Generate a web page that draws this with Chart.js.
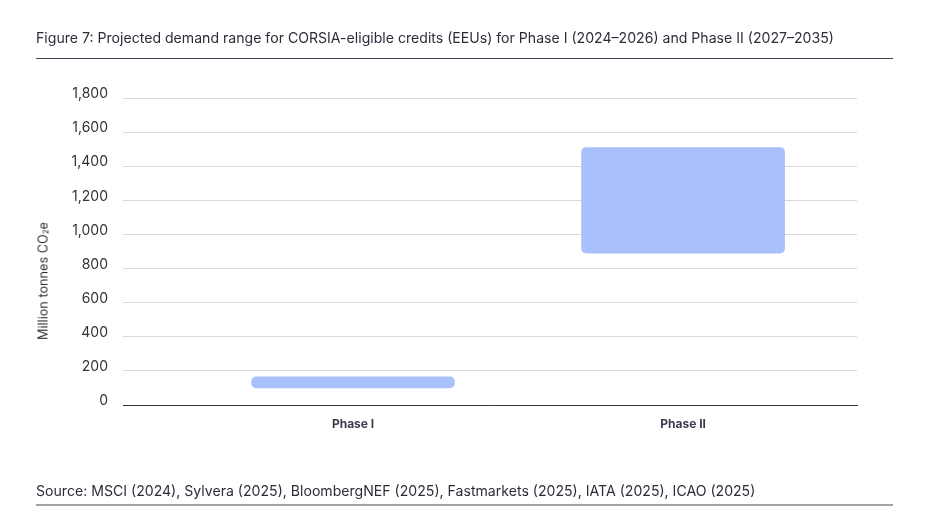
<!DOCTYPE html>
<html>
<head>
<meta charset="utf-8">
<script src="https://cdn.jsdelivr.net/npm/chart.js@4"></script>
<style>
  html, body { margin: 0; padding: 0; background: #fff; }
  body { width: 930px; height: 521px; position: relative; overflow: hidden; font-family: Inter, "Noto Sans", sans-serif; }
  #chart-wrap { position: absolute; left: 0; top: 0; width: 930px; height: 521px; }
  .title { position: absolute; left: 36px; top: 29px; font-size: 14.1px; color: #2b2d3a; white-space: nowrap; }
  .rule-top { position: absolute; left: 36px; top: 58px; width: 857px; height: 1px; background: #44475a; }
  .source { position: absolute; left: 36px; top: 482px; font-size: 14.1px; color: #2b2d3a; white-space: nowrap; }
  .rule-bottom { position: absolute; left: 36px; top: 504px; width: 857px; height: 2px; background: #a3a3a3; }
  .y-title { position: absolute; left: 43px; top: 281px; font-size: 12.7px; color: #333; white-space: nowrap;
             transform: translate(-50%, -50%) rotate(-90deg); }
</style>
</head>
<body>
<div id="chart-wrap"><canvas id="demandChart"></canvas></div>
<div class="title">Figure 7: Projected demand range for CORSIA-eligible credits (EEUs) for Phase I (2024–2026) and Phase II (2027–2035)</div>
<div class="rule-top"></div>
<div class="y-title">Million tonnes CO<sub style="font-size:8px;vertical-align:-1px">2</sub>e</div>
<div class="source">Source: MSCI (2024), Sylvera (2025), BloombergNEF (2025), Fastmarkets (2025), IATA (2025), ICAO (2025)</div>
<div class="rule-bottom"></div>
<script>
const phases = ["Phase I", "Phase II"];
const demandLow = [100, 890];
const demandHigh = [165, 1510];
const yTicks = [0, 200, 400, 600, 800, 1000, 1200, 1400, 1600, 1800];

const barColor = "rgb(170, 192, 252)";

document.addEventListener("DOMContentLoaded", () => {
  const canvas = document.getElementById("demandChart");

  new Chart(canvas, {
    type: "bar",
    data: {
      datasets: [
        {
          label: "Demand range",
          data: phases.map((p, i) => ({ x: i, y: [demandLow[i], demandHigh[i]] })),
          backgroundColor: barColor,
          borderWidth: 0,
          borderRadius: 5,
          borderSkipped: false,
          barThickness: 203,
        },
      ],
    },
    options: {
      responsive: true,
      maintainAspectRatio: false,
      animation: false,
      layout: {
        padding: { top: 98, right: 73, bottom: 0, left: 0 },
      },
      plugins: {
        legend: { display: false },
        tooltip: { enabled: false },
      },
      scales: {
        x: {
          type: "linear",
          offset: false,
          min: -0.697,
          max: 1.527,
          afterBuildTicks: (scale) => {
            scale.ticks = phases.map((p, i) => ({ value: i }));
          },
          afterFit: (scale) => {
            scale.height = 116;
          },
          grid: { display: false, drawTicks: false },
          border: { display: true, color: "#333333", width: 1 },
          ticks: {
            padding: 12,
            color: "#3a3d4d",
            font: { family: "Inter", size: 12, weight: "bold" },
            callback: (v) => phases[v] || "",
            maxRotation: 0,
          },
        },
        y: {
          min: 0,
          max: 1800,
          afterBuildTicks: (scale) => {
            scale.ticks = yTicks.map((v) => ({ value: v }));
          },
          afterFit: (scale) => {
            scale.width = 123;
          },
          grid: { color: "#d9d9d9", drawTicks: false },
          border: { display: false },
          ticks: {
            padding: 15,
            labelOffset: -4,
            color: "#333333",
            font: { family: "Inter", size: 14 },
            callback: (v) => v.toLocaleString("en-US"),
          },
        },
      },
    },
  });
});
</script>
</body>
</html>
